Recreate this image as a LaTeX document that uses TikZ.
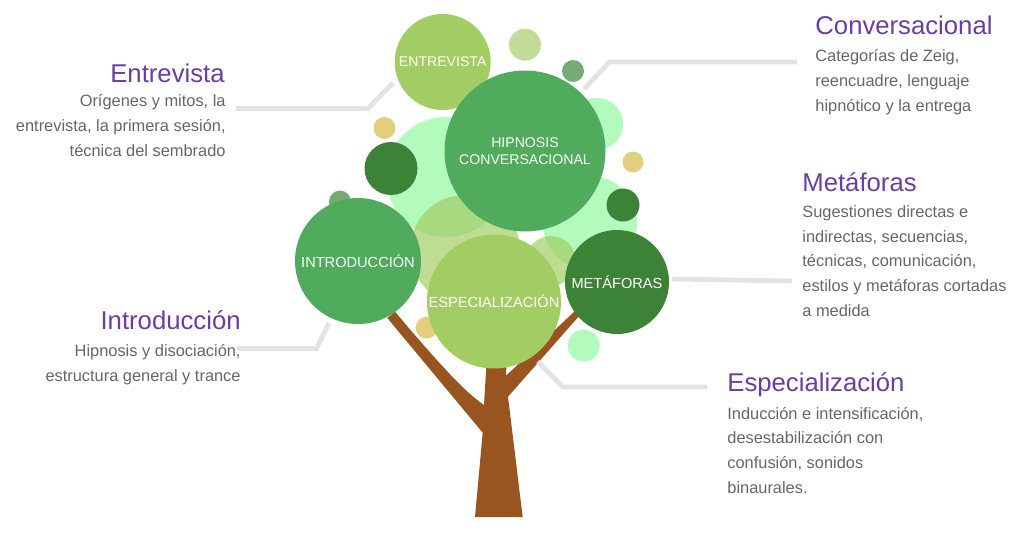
\documentclass[tikz,border=0pt]{standalone}
\usepackage{fontspec}
\usepackage{xcolor}
\setmainfont{Liberation Sans}
\definecolor{leafmid}{HTML}{50AC5C}
\definecolor{leaflime}{HTML}{A2CD64}
\definecolor{leafdark}{HTML}{3D8337}
\definecolor{leafmint}{HTML}{B3FBBD}
\definecolor{leafpale}{HTML}{C0DC96}
\definecolor{leafgrey}{HTML}{78AA78}
\definecolor{leaftan}{HTML}{E2CF7D}
\definecolor{bark}{HTML}{995520}
\definecolor{heading}{HTML}{6A3EA1}
\definecolor{bodygrey}{HTML}{666666}
\definecolor{leader}{HTML}{E3E3E3}
\tikzset{
  bubble/.style={circle,inner sep=0pt,text=white,align=center,font=\fontsize{7.3}{8.8}\selectfont},
  narrow/.style={font=\fontsize{7.05}{8.8}\selectfont},
  topic/.style={text=heading,inner sep=0pt,font=\fontsize{12.85}{15}\selectfont},
  detail/.style={text=bodygrey,inner sep=0pt,font=\fontsize{8.2}{12.3}\selectfont},
  guide/.style={draw=leader,line width=2.4pt,line join=miter}
}
\begin{document}
\begin{tikzpicture}[x=0.5pt,y=-0.5pt]
\useasboundingbox (0,0) rectangle (1024,536);
\node [bubble,fill=leafmint,minimum size=60pt] (mintA) at (446,177) {};
\node [bubble,fill=leafmint,minimum size=26pt] (mintB) at (597,124) {};
\node [bubble,fill=leafmint,minimum size=47pt] (mintC) at (590,223) {};
\node [bubble,fill=leafmint,minimum size=16pt] (mintD) at (583.7,345.7) {};
\node [bubble,fill=leaflime,fill opacity=0.7,minimum size=55pt] (paleA) at (465,250) {};
\node [bubble,fill=leaflime,fill opacity=0.7,minimum size=25pt] (paleB) at (551,261) {};
\node [bubble,fill=leafpale,minimum size=16pt] (paleC) at (525,44.7) {};
\node [bubble,fill=leafgrey,minimum size=11pt] (greyA) at (573,71) {};
\node [bubble,fill=leafgrey,minimum size=11pt] (greyB) at (340,201.6) {};
\node [bubble,fill=leaftan,minimum size=11pt] (tanA) at (384.5,128) {};
\node [bubble,fill=leaftan,minimum size=10.5pt] (tanB) at (633,162) {};
\node [bubble,fill=leaftan,minimum size=11pt] (tanC) at (426.7,327.7) {};
\node [bubble,fill=leafdark,minimum size=26.5pt] (darkA) at (391,168.5) {};
\node [bubble,fill=leafdark,minimum size=16.5pt] (darkB) at (623,205) {};
\fill [bark] (475,517) -- (522.7,517) -- (508,396.7) -- (580,315) -- (575,311) -- (506,375.7) -- (506.7,360) -- (486.7,360) -- (484,405)
  .. controls (465,392) and (440,365) .. (395,311.7) -- (387.3,318) -- (482.7,432.7) -- cycle;
\node [bubble,narrow,fill=leaflime,minimum size=48pt] (entrevista) at (442.7,62) {ENTREVISTA};
\node [bubble,narrow,fill=leafmid,minimum size=80.5pt] (hipnosis) at (525,151) {HIPNOSIS\\CONVERSACIONAL};
\node [bubble,fill=leafmid,minimum size=63pt] (introduccion) at (358,261) {INTRODUCCIÓN};
\node [bubble,fill=leaflime,minimum size=67pt] (especializacion) at (494,301.5) {ESPECIALIZACIÓN};
\node [bubble,fill=leafdark,minimum size=52pt] (metaforas) at (617,282) {METÁFORAS};
\coordinate (entrevistaEnd) at (236,108.5);
\coordinate (entrevistaBend) at (368,108.5);
\coordinate (entrevistaTip) at (393,83);
\coordinate (conversaEnd) at (797,62);
\coordinate (conversaBend) at (609.5,62);
\coordinate (conversaTip) at (584,89);
\coordinate (introEnd) at (237,348.5);
\coordinate (introBend) at (316.5,348.5);
\coordinate (introTip) at (329,323);
\coordinate (metaforasEnd) at (792,281);
\coordinate (metaforasTip) at (672,279);
\coordinate (especialEnd) at (707,387);
\coordinate (especialBend) at (563,387);
\coordinate (especialTip) at (538,361.5);
\draw [guide] (entrevistaEnd) -- (entrevistaBend) -- (entrevistaTip);
\draw [guide] (conversaEnd) -- (conversaBend) -- (conversaTip);
\draw [guide] (introEnd) -- (introBend) -- (introTip);
\draw [guide] (metaforasEnd) -- (metaforasTip);
\draw [guide] (especialEnd) -- (especialBend) -- (especialTip);
\node [topic,anchor=base east] (entrevistaTitle) at (225,82) {Entrevista};
\node [detail,anchor=base east,align=right] (entrevistaText) at (226,156) {Orígenes y mitos, la\\entrevista, la primera sesión,\\técnica del sembrado};
\node [topic,anchor=base east] (introTitle) at (241,329) {Introducción};
\node [detail,anchor=base east,align=right] (introText) at (241,381) {Hipnosis y disociación,\\estructura general y trance};
\node [topic,anchor=base west] (conversaTitle) at (815,34) {Conversacional};
\node [detail,anchor=base west,align=left] (conversaText) at (815,111) {Categorías de Zeig,\\reencuadre, lenguaje\\hipnótico y la entrega};
\node [topic,anchor=base west] (metaforasTitle) at (802,191) {Metáforas};
\node [detail,anchor=base west,align=left] (metaforasText) at (802,316) {Sugestiones directas e\\indirectas, secuencias,\\técnicas, comunicación,\\estilos y metáforas cortadas\\a medida};
\node [topic,anchor=base west] (especialTitle) at (727,391) {Especialización};
\node [detail,anchor=base west,align=left] (especialText) at (727,493) {Inducción e intensificación,\\desestabilización con\\confusión, sonidos\\binaurales.};
\end{tikzpicture}
\end{document}
